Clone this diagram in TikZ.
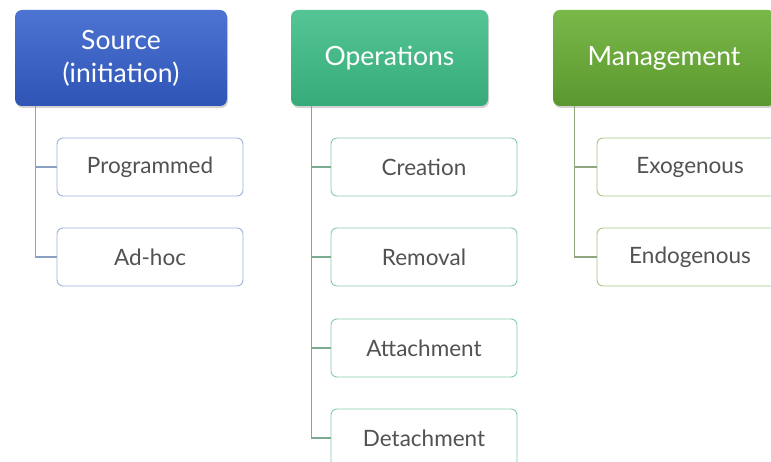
\documentclass[tikz,border=0pt]{standalone}
\usepackage{fontspec}
\setmainfont{Lato}
\usetikzlibrary{shadows}
\definecolor{bluetop}{HTML}{4D74D3}
\definecolor{bluebot}{HTML}{2E55B5}
\definecolor{greentop}{HTML}{55C596}
\definecolor{greenbot}{HTML}{36AB79}
\definecolor{olivetop}{HTML}{7BB84A}
\definecolor{olivebot}{HTML}{5A982E}
\definecolor{blueline}{HTML}{9AB3D6}
\definecolor{greenline}{HTML}{86CCA8}
\definecolor{oliveline}{HTML}{A4C58C}
\definecolor{txtgray}{HTML}{525252}
\tikzset{
  headbox/.style={rounded corners=7pt, minimum height=96pt, align=center,
    text=white, font=\fontsize{26.5}{33}\selectfont, inner sep=0pt,
    drop shadow={shadow xshift=1pt, shadow yshift=-2pt, opacity=0.35}},
  childbox/.style={rounded corners=6pt, minimum width=186pt, minimum height=58pt,
    fill=white, line width=0.9pt, text=txtgray, font=\fontsize{22.5}{24}\selectfont, inner sep=0pt},
  conn/.style={line width=1.3pt}
}
\begin{document}
\begin{tikzpicture}[x=1pt,y=-1pt]
\useasboundingbox (0,0) rectangle (771,462);
\clip (0,0) rectangle (771,462);
\fill[white] (0,0) rectangle (771,462);
% headers
\node[headbox, minimum width=212pt, top color=bluetop, bottom color=bluebot] (src) at (121,58) {Source\\(initiation)};
\node[headbox, minimum width=197pt, top color=greentop, bottom color=greenbot] (ops) at (389.5,58) {Operations};
\node[headbox, minimum width=222pt, top color=olivetop, bottom color=olivebot] (mgt) at (664,58) {Management};
% children
\node[childbox, draw=blueline] (prog) at (150,167) {Programmed};
\node[childbox, draw=blueline] (adhoc) at (150,257) {Ad-hoc};
\node[childbox, draw=greenline] (crea) at (424,167) {Creation};
\node[childbox, draw=greenline] (remo) at (424,257) {Removal};
\node[childbox, draw=greenline] (atta) at (424,348) {Attachment};
\node[childbox, draw=greenline] (deta) at (424,438) {Detachment};
\node[childbox, draw=oliveline] (exo) at (690,167) {Exogenous};
\node[childbox, draw=oliveline] (endo) at (690,257) {Endogenous};
% connectors
\coordinate (srcl) at ([xshift=21pt]src.south west);
\coordinate (opsl) at ([xshift=21pt]ops.south west);
\coordinate (mgtl) at ([xshift=22pt]mgt.south west);
\draw[conn, blueline!90!black] (srcl) |- (prog.west);
\draw[conn, blueline!90!black] (srcl) |- (adhoc.west);
\draw[conn, greenline!80!black!90] (opsl) |- (crea.west);
\draw[conn, greenline!80!black!90] (opsl) |- (remo.west);
\draw[conn, greenline!80!black!90] (opsl) |- (atta.west);
\draw[conn, greenline!80!black!90] (opsl) |- (deta.west);
\draw[conn, oliveline!80!black!90] (mgtl) |- (exo.west);
\draw[conn, oliveline!80!black!90] (mgtl) |- (endo.west);
\end{tikzpicture}
\end{document}
